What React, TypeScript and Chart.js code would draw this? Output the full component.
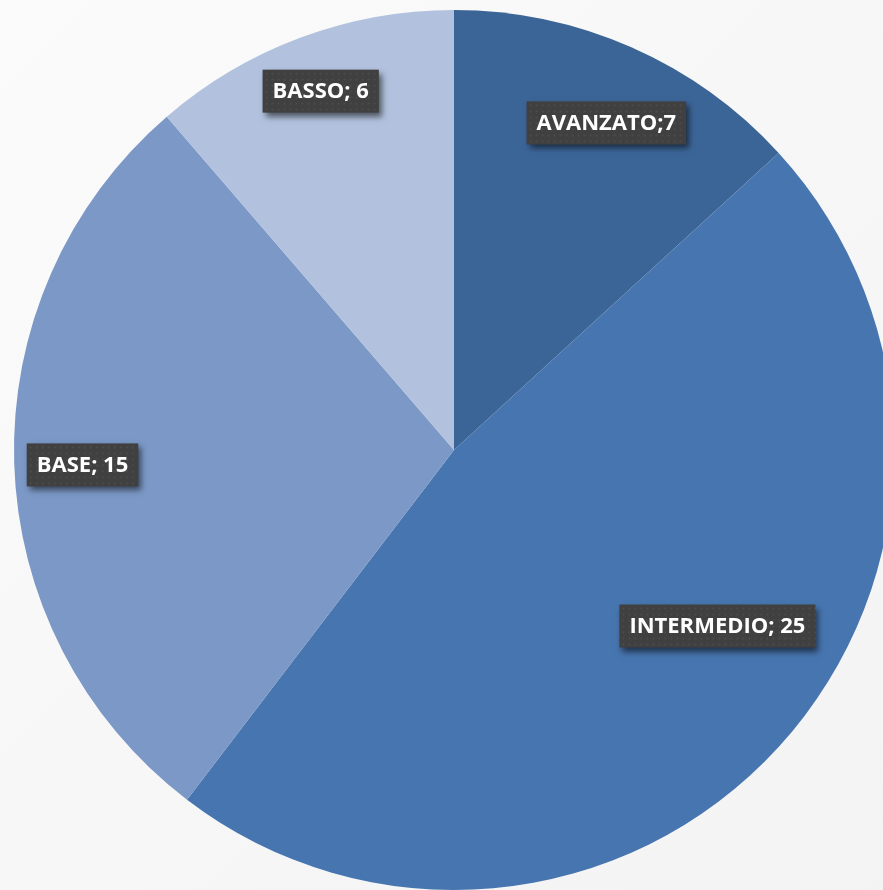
import React, { useEffect, useRef } from "react";
import { Chart, registerables } from "chart.js";

Chart.register(...registerables);

const categories = ["AVANZATO", "INTERMEDIO", "BASE", "BASSO"];
const values = [7, 25, 15, 6];
const labelTexts = ["AVANZATO;7", "INTERMEDIO; 25", "BASE; 15", "BASSO; 6"];
const sliceColors = ["#3c6597", "#4775af", "#7b98c6", "#b2c2de"];
const labelRadius = [0.82, 0.72, 0.845, 0.87];
const labelAngleShift = [1.2, -8.7, -0.6, 0];

const labelPlugin = {
  id: "boxLabels",
  afterDatasetsDraw(chart: any) {
    const ctx = chart.ctx;
    const meta = chart.getDatasetMeta(0);
    ctx.save();
    ctx.font = "bold 22px 'Open Sans', sans-serif";
    ctx.textBaseline = "middle";
    ctx.textAlign = "center";
    meta.data.forEach((arc: any, i: number) => {
      const { x, y, startAngle, endAngle, outerRadius } = arc.getProps(
        ["x", "y", "startAngle", "endAngle", "outerRadius"],
        true
      );
      const mid = (startAngle + endAngle) / 2 + (labelAngleShift[i] * Math.PI) / 180;
      const r = outerRadius * labelRadius[i];
      const cx = x + Math.cos(mid) * r;
      const cy = y + Math.sin(mid) * r;
      const text = labelTexts[i];
      const tw = ctx.measureText(text).width;
      const w = tw + 20;
      const h = 43;
      ctx.save();
      ctx.shadowColor = "rgba(0,0,0,0.55)";
      ctx.shadowBlur = 6;
      ctx.shadowOffsetX = 3;
      ctx.shadowOffsetY = 4;
      ctx.fillStyle = "#404040";
      ctx.fillRect(cx - w / 2, cy - h / 2, w, h);
      ctx.restore();
      ctx.fillStyle = "rgba(255,255,255,0.06)";
      for (let px = cx - w / 2 + 3; px < cx + w / 2 - 1; px += 6) {
        for (let py = cy - h / 2 + 3; py < cy + h / 2 - 1; py += 6) {
          ctx.fillRect(px, py, 2, 2);
        }
      }
      ctx.fillStyle = "#ffffff";
      ctx.fillText(text, cx, cy + 1);
    });
    ctx.restore();
  },
};

export default function App() {
  const ref = useRef<HTMLCanvasElement | null>(null);
  useEffect(() => {
    document.body.style.margin = "0";
    const chart = new Chart(ref.current as HTMLCanvasElement, {
      type: "pie",
      data: {
        labels: categories,
        datasets: [
          {
            data: values,
            backgroundColor: sliceColors,
            borderWidth: 0,
          },
        ],
      },
      options: {
        animation: false,
        responsive: false,
        maintainAspectRatio: false,
        layout: { padding: { left: 14, right: 14, top: 10, bottom: 0 } },
        plugins: {
          legend: { display: false },
          tooltip: { enabled: false },
        },
      },
      plugins: [labelPlugin],
    });
    return () => chart.destroy();
  }, []);
  return (
    <div
      style={{
        position: "relative",
        width: 883,
        height: 890,
        overflow: "hidden",
        background: "linear-gradient(135deg, #fbfbfb 0%, #f3f3f3 100%)",
      }}
    >
      <canvas ref={ref} width={908} height={890} style={{ display: "block" }} />
    </div>
  );
}
